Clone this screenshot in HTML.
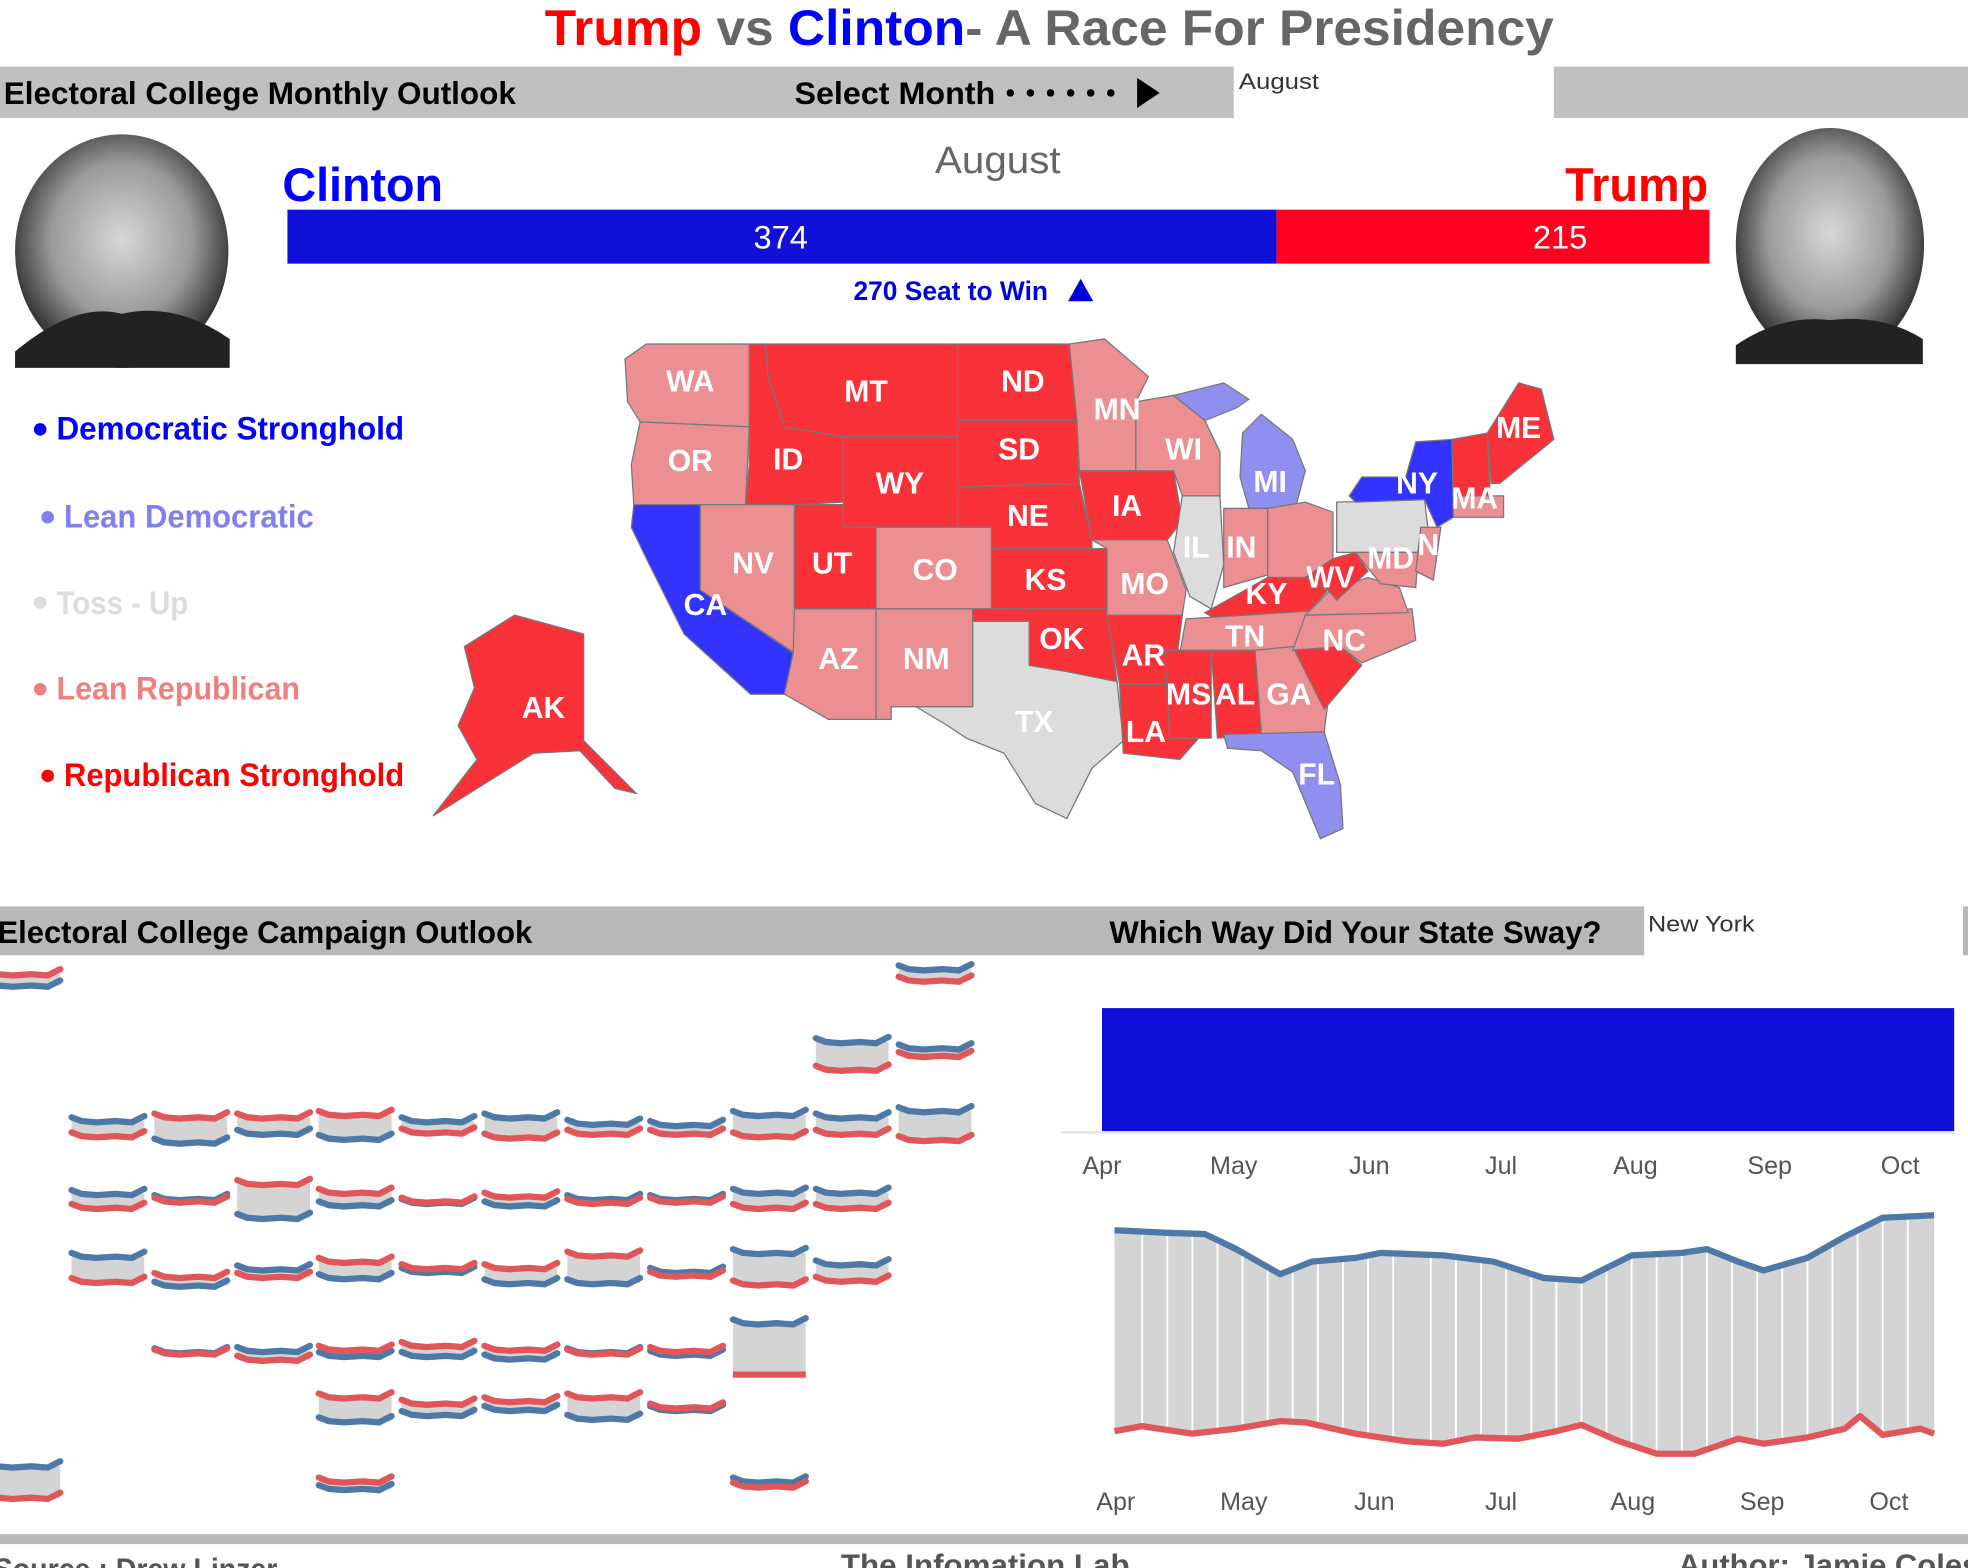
<!DOCTYPE html>
<html><head><meta charset="utf-8"><style>html,body{margin:0;padding:0;background:#fff;overflow:hidden}svg{display:block}</style></head>
<body>
<svg width="1968" height="1568" viewBox="0 0 1568 1249" preserveAspectRatio="none" xmlns="http://www.w3.org/2000/svg" font-family="Liberation Sans, sans-serif">
<defs>
<path id="w" d="M0,-3 L8,0 20,1 35,0 48,1 58,-4" fill="none" stroke-width="5" stroke-linecap="round"/>
<radialGradient id="face" cx="50%" cy="45%" r="55%"><stop offset="0" stop-color="#d8d8d8"/><stop offset="0.6" stop-color="#9a9a9a"/><stop offset="1" stop-color="#2a2a2a"/></radialGradient>
</defs>
<!-- title -->
<text x="836" y="36" text-anchor="middle" font-size="40" font-weight="bold" textLength="804" lengthAdjust="spacingAndGlyphs"><tspan fill="#ff0000">Trump</tspan><tspan fill="#666"> vs </tspan><tspan fill="#0000ff">Clinton</tspan><tspan fill="#666">- A Race For Presidency</tspan></text>
<!-- top bar -->
<rect x="0" y="53" width="983" height="41" fill="#c0c0c0"/>
<rect x="1238" y="53" width="330" height="41" fill="#c0c0c0"/>
<text x="3" y="83" font-size="25" font-weight="bold" fill="#000" textLength="408" lengthAdjust="spacingAndGlyphs">Electoral College Monthly Outlook</text>
<text x="633" y="83" font-size="25" font-weight="bold" fill="#000" textLength="160" lengthAdjust="spacingAndGlyphs">Select Month</text>
<g fill="#000"><circle cx="805" cy="74" r="3"/><circle cx="821" cy="74" r="3"/><circle cx="837" cy="74" r="3"/><circle cx="853" cy="74" r="3"/><circle cx="869" cy="74" r="3"/><circle cx="885" cy="74" r="3"/><polygon points="906,62 924,74 906,86"/></g>
<text x="987" y="71" font-size="18" fill="#333" textLength="64" lengthAdjust="spacingAndGlyphs">August</text>
<!-- photos -->
<ellipse cx="97" cy="200" rx="85" ry="93" fill="url(#face)"/>
<path d="M12,280 Q60,240 97,250 Q140,240 183,270 L183,293 L12,293Z" fill="#222"/>
<ellipse cx="1458" cy="195" rx="75" ry="93" fill="url(#face)"/>
<path d="M1383,275 Q1420,250 1458,255 Q1500,250 1532,270 L1532,290 L1383,290Z" fill="#222"/>
<!-- names and bar -->
<text x="225" y="160" font-size="38" font-weight="bold" fill="#0000ff" textLength="128" lengthAdjust="spacingAndGlyphs">Clinton</text>
<text x="795" y="138" text-anchor="middle" font-size="30" fill="#666" textLength="100" lengthAdjust="spacingAndGlyphs">August</text>
<text x="1361" y="160" text-anchor="end" font-size="38" font-weight="bold" fill="#ff0000" textLength="114" lengthAdjust="spacingAndGlyphs">Trump</text>
<rect x="229" y="167" width="788" height="43" fill="#1010d8"/>
<rect x="1017" y="167" width="345" height="43" fill="#ff0020"/>
<text x="622" y="198" text-anchor="middle" font-size="26" fill="#fff">374</text>
<text x="1243" y="198" text-anchor="middle" font-size="26" fill="#fff">215</text>
<text x="680" y="239" font-size="21" font-weight="bold" fill="#0000dd" textLength="155" lengthAdjust="spacingAndGlyphs">270 Seat to Win</text>
<polygon points="861,222 871,240 851,240" fill="#0000dd"/>
<!-- legend -->
<g font-size="26" font-weight="bold">
<circle cx="32" cy="342" r="5" fill="#0000ff"/><text x="45" y="350" fill="#0000ff" textLength="277" lengthAdjust="spacingAndGlyphs">Democratic Stronghold</text>
<circle cx="38" cy="412" r="5" fill="#8080ee"/><text x="51" y="420" fill="#8080ee" textLength="199" lengthAdjust="spacingAndGlyphs">Lean Democratic</text>
<circle cx="32" cy="480" r="5" fill="#dcdcdc"/><text x="45" y="489" fill="#dcdcdc" textLength="105" lengthAdjust="spacingAndGlyphs">Toss - Up</text>
<circle cx="32" cy="549" r="5" fill="#f08080"/><text x="45" y="557" fill="#f08080" textLength="194" lengthAdjust="spacingAndGlyphs">Lean Republican</text>
<circle cx="38" cy="618" r="5" fill="#ff0000"/><text x="51" y="626" fill="#ff0000" textLength="271" lengthAdjust="spacingAndGlyphs">Republican Stronghold</text>
</g>
<!-- map -->
<g stroke="#777" stroke-width="1">
<polygon fill="#ec8f93" points="498,286 515,274 597,274 597,340 510,336 500,320"/>
<polygon fill="#ec8f93" points="510,336 597,340 594,402 505,402 503,370"/>
<polygon fill="#3333ff" points="505,402 558,402 558,470 632,520 625,553 598,553 545,505 515,445 503,420"/>
<polygon fill="#ec8f93" points="558,402 633,402 633,520 558,470"/>
<polygon fill="#f9323a" points="597,274 610,274 612,300 625,340 672,348 672,400 633,402 594,402 597,370"/>
<polygon fill="#f9323a" points="610,274 763,274 763,348 672,348 625,340 612,300"/>
<polygon fill="#f9323a" points="672,348 763,348 763,420 698,420 672,420"/>
<polygon fill="#f9323a" points="633,402 672,402 672,420 698,420 698,485 633,485"/>
<polygon fill="#ec8f93" points="698,420 790,420 790,485 698,485"/>
<polygon fill="#ec8f93" points="633,485 698,485 698,573 660,573 625,553 632,520"/>
<polygon fill="#ec8f93" points="698,485 775,485 775,563 710,563 710,573 698,573"/>
<polygon fill="#f9323a" points="763,274 852,274 858,335 763,335"/>
<polygon fill="#f9323a" points="763,335 858,335 860,385 763,388"/>
<polygon fill="#f9323a" points="763,388 860,385 870,430 870,437 790,437 790,420 763,420"/>
<polygon fill="#f9323a" points="790,437 882,437 882,485 790,485"/>
<polygon fill="#f9323a" points="775,485 882,485 890,543 850,535 820,530 820,495 775,495"/>
<polygon fill="#dcdcdc" points="730,563 775,563 775,495 820,495 820,530 850,535 890,543 895,590 870,612 850,652 825,640 800,600 770,588 755,578"/>
<polygon fill="#ec8f93" points="852,274 880,270 915,300 905,320 905,375 860,375 858,335"/>
<polygon fill="#f9323a" points="860,375 935,375 942,415 930,430 870,430"/>
<polygon fill="#ec8f93" points="870,430 930,430 945,470 942,490 882,490 882,437"/>
<polygon fill="#f9323a" points="882,490 942,490 935,545 892,545"/>
<polygon fill="#f9323a" points="892,545 930,545 932,572 955,588 940,605 895,600"/>
<polygon fill="#ec8f93" points="905,320 935,315 960,335 972,360 972,395 942,395 935,375 905,375"/>
<polygon fill="#dcdcdc" points="942,395 972,395 975,450 965,485 948,475 935,440"/>
<polygon fill="#8f8ff0" points="990,345 1005,330 1030,350 1040,375 1032,405 995,405 988,380"/>
<polygon fill="#8f8ff0" points="935,315 975,305 995,318 985,325 960,335"/>
<polygon fill="#ec8f93" points="975,405 1010,405 1010,458 975,468"/>
<polygon fill="#ec8f93" points="1010,405 1040,400 1062,408 1062,445 1040,460 1010,460"/>
<polygon fill="#f9323a" points="960,488 1010,460 1040,460 1058,470 1040,490 968,493"/>
<polygon fill="#ec8f93" points="945,493 1070,485 1065,518 940,520"/>
<polygon fill="#f9323a" points="928,518 965,518 965,588 932,588"/>
<polygon fill="#f9323a" points="965,518 1000,518 1005,585 970,588"/>
<polygon fill="#ec8f93" points="1000,518 1030,515 1058,560 1055,583 1005,585"/>
<polygon fill="#8f8ff0" points="975,585 1055,583 1068,625 1070,660 1052,668 1030,615 1005,598 978,596"/>
<polygon fill="#f9323a" points="1030,515 1068,515 1085,530 1055,565"/>
<polygon fill="#ec8f93" points="1040,490 1125,485 1128,510 1085,528 1068,515 1030,518"/>
<polygon fill="#ec8f93" points="1040,490 1060,470 1090,460 1115,468 1122,488"/>
<polygon fill="#f9323a" points="1040,460 1062,445 1080,440 1090,455 1065,478 1058,470"/>
<polygon fill="#dcdcdc" points="1065,400 1135,398 1140,440 1065,440"/>
<polygon fill="#ec8f93" points="1080,440 1130,440 1128,468 1100,465"/>
<polygon fill="#3333ff" points="1075,395 1085,380 1120,380 1128,352 1157,350 1158,412 1145,420 1135,398 1080,400"/>
<polygon fill="#ec8f93" points="1132,420 1148,420 1142,462 1128,455"/>
<polygon fill="#f9323a" points="1157,350 1185,345 1188,410 1158,412"/>
<polygon fill="#f9323a" points="1185,345 1210,305 1228,310 1238,350 1195,385 1188,385"/>
<polygon fill="#ec8f93" points="1158,395 1198,395 1198,412 1158,412"/>
<polygon fill="#f9323a" points="410,490 465,505 465,590 507,632 490,628 462,598 425,600 385,625 345,650 380,605 365,578 378,548 370,515"/>
</g>
<g font-size="24" font-weight="bold" fill="#fff" text-anchor="middle">
<text x="550" y="312">WA</text><text x="550" y="375">OR</text><text x="562" y="490">CA</text><text x="600" y="457">NV</text>
<text x="628" y="374">ID</text><text x="690" y="320">MT</text><text x="717" y="393">WY</text><text x="663" y="457">UT</text>
<text x="745" y="462">CO</text><text x="668" y="533">AZ</text><text x="738" y="533">NM</text><text x="815" y="312">ND</text>
<text x="812" y="366">SD</text><text x="819" y="419">NE</text><text x="833" y="470">KS</text><text x="846" y="517">OK</text>
<text x="824" y="583">TX</text><text x="890" y="334">MN</text><text x="898" y="411">IA</text><text x="912" y="473">MO</text>
<text x="911" y="530">AR</text><text x="913" y="591">LA</text><text x="943" y="366">WI</text><text x="953" y="444">IL</text>
<text x="1012" y="392">MI</text><text x="989" y="444">IN</text><text x="1009" y="481">KY</text><text x="992" y="515">TN</text>
<text x="947" y="561">MS</text><text x="984" y="561">AL</text><text x="1027" y="561">GA</text><text x="1049" y="625">FL</text>
<text x="1071" y="518">NC</text><text x="1060" y="468">WV</text><text x="1108" y="453">MD</text><text x="1138" y="442">N</text>
<text x="1129" y="393">NY</text><text x="1210" y="349">ME</text><text x="1175" y="405">MA</text><text x="433" y="572">AK</text>
</g>
<!-- bottom headers -->
<rect x="0" y="722" width="1310" height="39" fill="#b8b8b8"/>
<rect x="1564" y="722" width="4" height="39" fill="#b8b8b8"/>
<text x="-2" y="751" font-size="25" font-weight="bold" fill="#000" textLength="426" lengthAdjust="spacingAndGlyphs">Electoral College Campaign Outlook</text>
<text x="884" y="751" font-size="25" font-weight="bold" fill="#000" textLength="392" lengthAdjust="spacingAndGlyphs">Which Way Did Your State Sway?</text>
<text x="1313" y="742" font-size="18" fill="#333" textLength="85" lengthAdjust="spacingAndGlyphs">New York</text>
<!-- small multiples -->
<g fill="#d4d4d4">
<rect x="-10" y="776" width="58" height="9"/><rect x="716" y="772" width="58" height="9"/>
<rect x="650" y="830" width="58" height="22"/><rect x="716" y="835" width="58" height="6"/>
<rect x="57" y="893" width="58" height="12"/><rect x="123" y="890" width="58" height="20"/><rect x="189" y="890" width="58" height="13"/><rect x="254" y="888" width="58" height="19"/><rect x="320" y="893" width="58" height="9"/><rect x="386" y="890" width="58" height="16"/><rect x="452" y="895" width="58" height="8"/><rect x="518" y="896" width="58" height="7"/><rect x="584" y="888" width="58" height="17"/><rect x="650" y="890" width="58" height="13"/><rect x="716" y="885" width="58" height="23"/>
<rect x="57" y="951" width="58" height="11"/><rect x="189" y="943" width="58" height="27"/><rect x="254" y="950" width="58" height="10"/><rect x="386" y="953" width="58" height="7"/><rect x="584" y="950" width="58" height="12"/><rect x="650" y="950" width="58" height="12"/>
<rect x="57" y="1001" width="58" height="20"/><rect x="123" y="1017" width="58" height="7"/><rect x="189" y="1011" width="58" height="6"/><rect x="254" y="1005" width="58" height="13"/><rect x="386" y="1010" width="58" height="12"/><rect x="452" y="1000" width="58" height="22"/><rect x="584" y="998" width="58" height="25"/><rect x="650" y="1007" width="58" height="13"/>
<rect x="189" y="1076" width="58" height="7"/><rect x="254" y="1075" width="58" height="5"/><rect x="320" y="1072" width="58" height="8"/><rect x="386" y="1075" width="58" height="7"/><rect x="584" y="1054" width="58" height="41"/>
<rect x="254" y="1113" width="58" height="19"/><rect x="320" y="1118" width="58" height="9"/><rect x="386" y="1116" width="58" height="7"/><rect x="452" y="1113" width="58" height="17"/>
<rect x="-10" y="1168" width="58" height="25"/><rect x="254" y="1180" width="58" height="6"/>
</g>
<g stroke="#4e79a7">
<use href="#w" x="-10" y="785"/><use href="#w" x="716" y="772"/><use href="#w" x="650" y="830"/><use href="#w" x="716" y="835"/>
<use href="#w" x="57" y="893"/><use href="#w" x="123" y="910"/><use href="#w" x="189" y="903"/><use href="#w" x="254" y="907"/><use href="#w" x="320" y="893"/><use href="#w" x="386" y="890"/><use href="#w" x="452" y="895"/><use href="#w" x="518" y="896"/><use href="#w" x="584" y="888"/><use href="#w" x="650" y="890"/><use href="#w" x="716" y="885"/>
<use href="#w" x="57" y="951"/><use href="#w" x="123" y="955"/><use href="#w" x="189" y="970"/><use href="#w" x="254" y="960"/><use href="#w" x="320" y="958"/><use href="#w" x="386" y="960"/><use href="#w" x="452" y="955"/><use href="#w" x="518" y="955"/><use href="#w" x="584" y="950"/><use href="#w" x="650" y="950"/>
<use href="#w" x="57" y="1001"/><use href="#w" x="123" y="1024"/><use href="#w" x="189" y="1011"/><use href="#w" x="254" y="1018"/><use href="#w" x="320" y="1013"/><use href="#w" x="386" y="1022"/><use href="#w" x="452" y="1022"/><use href="#w" x="518" y="1013"/><use href="#w" x="584" y="998"/><use href="#w" x="650" y="1007"/>
<use href="#w" x="123" y="1077"/><use href="#w" x="189" y="1076"/><use href="#w" x="254" y="1080"/><use href="#w" x="320" y="1080"/><use href="#w" x="386" y="1082"/><use href="#w" x="452" y="1077"/><use href="#w" x="518" y="1079"/><use href="#w" x="584" y="1054"/>
<use href="#w" x="254" y="1132"/><use href="#w" x="320" y="1127"/><use href="#w" x="386" y="1123"/><use href="#w" x="452" y="1130"/><use href="#w" x="518" y="1123"/>
<use href="#w" x="-10" y="1168"/><use href="#w" x="254" y="1186"/><use href="#w" x="584" y="1180"/>
</g>
<g stroke="#e15759">
<use href="#w" x="-10" y="776"/><use href="#w" x="716" y="781"/><use href="#w" x="650" y="852"/><use href="#w" x="716" y="841"/>
<use href="#w" x="57" y="905"/><use href="#w" x="123" y="890"/><use href="#w" x="189" y="890"/><use href="#w" x="254" y="888"/><use href="#w" x="320" y="902"/><use href="#w" x="386" y="906"/><use href="#w" x="452" y="903"/><use href="#w" x="518" y="903"/><use href="#w" x="584" y="905"/><use href="#w" x="650" y="903"/><use href="#w" x="716" y="908"/>
<use href="#w" x="57" y="962"/><use href="#w" x="123" y="957"/><use href="#w" x="189" y="943"/><use href="#w" x="254" y="950"/><use href="#w" x="320" y="957"/><use href="#w" x="386" y="953"/><use href="#w" x="452" y="958"/><use href="#w" x="518" y="957"/><use href="#w" x="584" y="962"/><use href="#w" x="650" y="962"/>
<use href="#w" x="57" y="1021"/><use href="#w" x="123" y="1017"/><use href="#w" x="189" y="1017"/><use href="#w" x="254" y="1005"/><use href="#w" x="320" y="1010"/><use href="#w" x="386" y="1010"/><use href="#w" x="452" y="1000"/><use href="#w" x="518" y="1016"/><use href="#w" x="584" y="1023"/><use href="#w" x="650" y="1020"/>
<use href="#w" x="123" y="1078"/><use href="#w" x="189" y="1083"/><use href="#w" x="254" y="1075"/><use href="#w" x="320" y="1072"/><use href="#w" x="386" y="1075"/><use href="#w" x="452" y="1078"/><use href="#w" x="518" y="1076"/>
<line x1="584" y1="1095" x2="642" y2="1095" stroke-width="5"/>
<use href="#w" x="254" y="1113"/><use href="#w" x="320" y="1118"/><use href="#w" x="386" y="1116"/><use href="#w" x="452" y="1113"/><use href="#w" x="518" y="1121"/>
<use href="#w" x="-10" y="1193"/><use href="#w" x="254" y="1180"/><use href="#w" x="584" y="1184"/>
</g>
<!-- right bar chart -->
<rect x="878" y="803" width="679" height="98" fill="#1010d8"/>
<line x1="845" y1="902" x2="1557" y2="902" stroke="#e4e4e4" stroke-width="2"/>
<g font-size="20" fill="#555" text-anchor="middle">
<text x="878" y="935">Apr</text><text x="983" y="935">May</text><text x="1091" y="935">Jun</text><text x="1196" y="935">Jul</text><text x="1303" y="935">Aug</text><text x="1410" y="935">Sep</text><text x="1514" y="935">Oct</text>
<text x="889" y="1203">Apr</text><text x="991" y="1203">May</text><text x="1095" y="1203">Jun</text><text x="1196" y="1203">Jul</text><text x="1301" y="1203">Aug</text><text x="1404" y="1203">Sep</text><text x="1505" y="1203">Oct</text>
</g>
<!-- area chart -->
<polygon fill="#d4d4d4" points="888,980 930,982 960,983 985,995 1020,1015 1045,1005 1080,1002 1100,998 1150,1000 1190,1005 1230,1018 1260,1020 1300,1000 1340,998 1360,995 1385,1005 1405,1012 1440,1002 1470,985 1500,970 1541,968 1541,1142 1530,1138 1500,1143 1482,1128 1470,1138 1440,1145 1405,1150 1385,1146 1350,1158 1320,1158 1290,1148 1260,1135 1240,1140 1210,1146 1175,1145 1150,1150 1120,1148 1080,1142 1040,1133 1020,1132 985,1138 950,1142 910,1136 888,1140"/>
<g stroke="#fff" stroke-width="1.5">
<line x1="910" y1="975" x2="910" y2="1150"/><line x1="930" y1="975" x2="930" y2="1150"/><line x1="950" y1="975" x2="950" y2="1150"/><line x1="970" y1="975" x2="970" y2="1150"/><line x1="990" y1="975" x2="990" y2="1150"/><line x1="1010" y1="975" x2="1010" y2="1150"/><line x1="1030" y1="975" x2="1030" y2="1150"/><line x1="1050" y1="975" x2="1050" y2="1150"/><line x1="1070" y1="975" x2="1070" y2="1150"/><line x1="1090" y1="975" x2="1090" y2="1150"/><line x1="1110" y1="975" x2="1110" y2="1150"/><line x1="1140" y1="975" x2="1140" y2="1155"/><line x1="1160" y1="975" x2="1160" y2="1155"/><line x1="1180" y1="975" x2="1180" y2="1155"/><line x1="1200" y1="975" x2="1200" y2="1155"/><line x1="1220" y1="975" x2="1220" y2="1155"/><line x1="1240" y1="975" x2="1240" y2="1155"/><line x1="1260" y1="975" x2="1260" y2="1155"/><line x1="1280" y1="975" x2="1280" y2="1160"/><line x1="1300" y1="975" x2="1300" y2="1160"/><line x1="1320" y1="975" x2="1320" y2="1160"/><line x1="1340" y1="975" x2="1340" y2="1160"/><line x1="1360" y1="975" x2="1360" y2="1160"/><line x1="1380" y1="975" x2="1380" y2="1160"/><line x1="1400" y1="975" x2="1400" y2="1160"/><line x1="1420" y1="975" x2="1420" y2="1160"/><line x1="1440" y1="975" x2="1440" y2="1160"/><line x1="1460" y1="965" x2="1460" y2="1160"/><line x1="1480" y1="965" x2="1480" y2="1160"/><line x1="1500" y1="965" x2="1500" y2="1160"/><line x1="1520" y1="965" x2="1520" y2="1160"/>
</g>
<polyline fill="none" stroke="#4e79a7" stroke-width="5" stroke-linejoin="round" points="888,980 930,982 960,983 985,995 1020,1015 1045,1005 1080,1002 1100,998 1150,1000 1190,1005 1230,1018 1260,1020 1300,1000 1340,998 1360,995 1385,1005 1405,1012 1440,1002 1470,985 1500,970 1541,968"/>
<polyline fill="none" stroke="#e15759" stroke-width="5" stroke-linejoin="round" points="888,1140 910,1136 950,1142 985,1138 1020,1132 1040,1133 1080,1142 1120,1148 1150,1150 1175,1145 1210,1146 1240,1140 1260,1135 1290,1148 1320,1158 1350,1158 1385,1146 1405,1150 1440,1145 1470,1138 1482,1128 1500,1143 1530,1138 1541,1142"/>
<!-- footer -->
<rect x="0" y="1222" width="1568" height="8" fill="#b8b8b8"/>
<g font-size="24" font-weight="bold" fill="#555">
<text x="-5" y="1258" textLength="226" lengthAdjust="spacingAndGlyphs">Source : Drew Linzer</text>
<text x="670" y="1255" textLength="230" lengthAdjust="spacingAndGlyphs">The Infomation Lab</text>
<text x="1337" y="1255" textLength="240" lengthAdjust="spacingAndGlyphs">Author: Jamie Coles</text>
</g>
</svg>
</body></html>
